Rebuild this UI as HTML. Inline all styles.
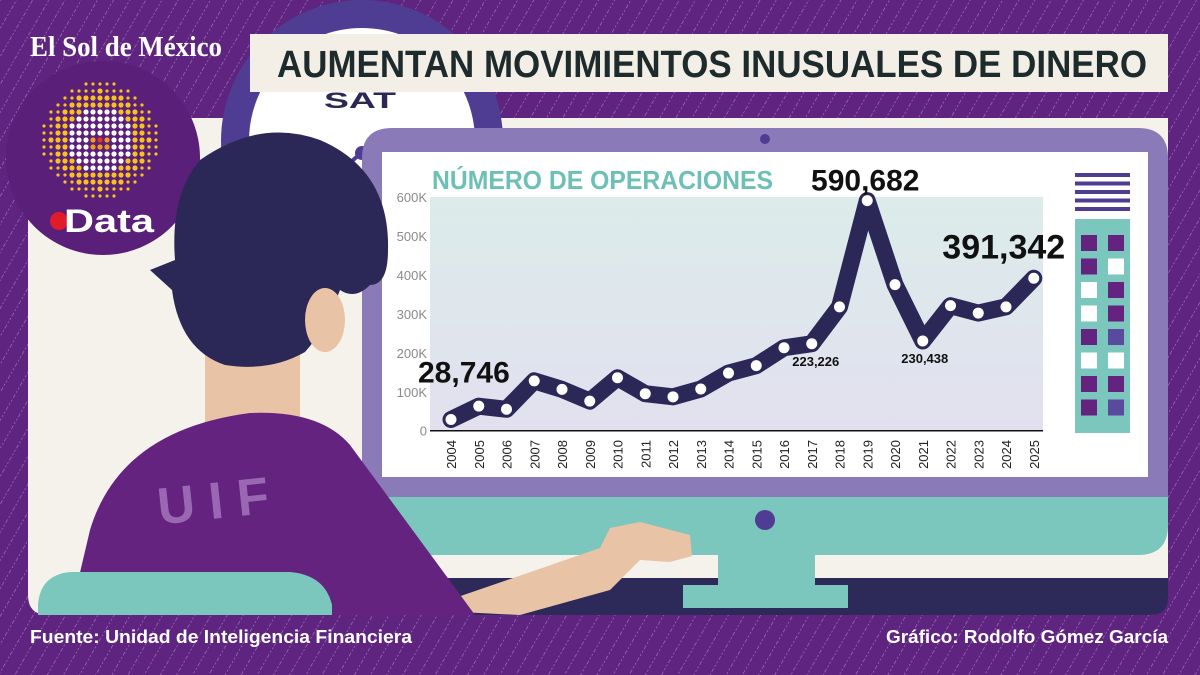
<!DOCTYPE html>
<html><head><meta charset="utf-8"><style>
html,body{margin:0;padding:0;width:1200px;height:675px;overflow:hidden;background:#5f2480}
svg{display:block}
text{font-family:"Liberation Sans",sans-serif}
</style></head><body>
<svg id="root" width="1200" height="675" viewBox="0 0 1200 675" xmlns="http://www.w3.org/2000/svg">
<defs>
<pattern id="stripes" width="14" height="14" patternUnits="userSpaceOnUse" patternTransform="rotate(30)">
<line x1="0" y1="0" x2="0" y2="14" stroke="#c9a5dc" stroke-width="1.2" stroke-dasharray="2 2" opacity="0.7"/>
</pattern>
<linearGradient id="plotbg" x1="0" y1="0" x2="0" y2="1"><stop offset="0" stop-color="#dcecea"/><stop offset="1" stop-color="#e2e0ef"/></linearGradient>
</defs>
<rect width="1200" height="675" fill="#5f2480"/>
<rect width="1200" height="675" fill="url(#stripes)"/>
<path d="M28 118 H1168 V595 Q1168 615 1148 615 H48 Q28 615 28 595 Z" fill="#f5f2ec"/>
<circle cx="362" cy="141" r="141" fill="#4f3d94"/>
<circle cx="362" cy="141" r="113" fill="#ffffff"/>
<text x="360" y="108" font-size="22" font-weight="bold" fill="#2b2858" text-anchor="middle" textLength="72" lengthAdjust="spacingAndGlyphs">SAT</text>
<line x1="320" y1="190" x2="362" y2="152" stroke="#4f3d94" stroke-width="4"/>
<circle cx="362" cy="153" r="7" fill="#4f3d94"/>
<circle cx="103" cy="158" r="97" fill="#5a1f78"/>
<text x="30" y="56" style="font-family:'Liberation Serif',serif" font-size="28" font-weight="bold" fill="#fff" textLength="192" lengthAdjust="spacingAndGlyphs">El Sol de México</text>
<g id="dots"></g>
<circle cx="59" cy="221" r="9" fill="#e01b2a"/>
<text x="64" y="232" font-size="32" font-weight="bold" fill="#fff" textLength="90" lengthAdjust="spacingAndGlyphs">Data</text>
<rect x="250" y="34" width="918" height="58" fill="#f3efe6"/>
<text x="277" y="77" font-size="38" font-weight="bold" fill="#1e2b2c" textLength="870" lengthAdjust="spacingAndGlyphs">AUMENTAN MOVIMIENTOS INUSUALES DE DINERO</text>
<path d="M430 578 H1168 V598 Q1168 615 1150 615 H430 Z" fill="#2d2a5a"/>
<rect x="380" y="555" width="788" height="23" fill="#f5f2ec"/>
<path d="M362 480 H1168 V525 Q1168 555 1138 555 H392 Q362 555 362 525 Z" fill="#7bc6bd"/>
<path d="M392 128 H1138 Q1168 128 1168 158 V497 H362 V158 Q362 128 392 128 Z" fill="#8a7ab7"/>
<rect x="382" y="152" width="766" height="325" fill="#ffffff"/>
<circle cx="765" cy="139" r="5" fill="#4f3d94"/>
<circle cx="765" cy="520" r="10" fill="#4f3d94"/>
<rect x="718" y="530" width="97" height="58" fill="#7bc6bd"/>
<rect x="683" y="585" width="165" height="23" fill="#7bc6bd"/>
<g id="deco"></g>
<text x="432" y="189" font-size="26" font-weight="bold" fill="#6cc0b5" textLength="341" lengthAdjust="spacingAndGlyphs">NÚMERO DE OPERACIONES</text>
<rect x="430" y="197" width="613" height="234" fill="url(#plotbg)"/>
<g id="chart"></g>
<path d="M420 610 L600 548 L610 528 L640 522 L690 535 L692 556 L670 562 L640 560 L610 590 L520 615 Z" fill="#e8c3a5"/>
<rect x="205" y="330" width="95" height="95" fill="#e8c3a5"/>
<path d="M70 615 L90 530 Q120 430 250 413 Q320 410 350 445 L475 615 Z" fill="#63237f"/>
<path d="M38 615 V605 Q40 575 70 572 H290 Q325 575 332 605 V615 Z" fill="#7bc6bd"/>
<text x="220" y="518" font-size="52" font-weight="bold" fill="#9a68b3" text-anchor="middle" letter-spacing="14" transform="rotate(-6 220 500)">UIF</text>
<path d="M200 160 Q260 118 320 140 Q390 170 388 250 Q388 285 370 285 Q355 300 340 290 Q325 330 305 352 Q270 372 225 365 Q180 350 172 290 L150 270 L175 260 Q170 195 200 160 Z" fill="#2b2858"/>
<ellipse cx="325" cy="320" rx="20" ry="32" fill="#e8c3a5"/>
<text x="30" y="643" font-size="18" font-weight="bold" fill="#fff" textLength="382" lengthAdjust="spacingAndGlyphs">Fuente: Unidad de Inteligencia Financiera</text>
<text x="1168" y="643" font-size="18" font-weight="bold" fill="#fff" text-anchor="end" textLength="282" lengthAdjust="spacingAndGlyphs">Gráfico: Rodolfo Gómez García</text>
</svg>
<script>
const years = ["2004","2005","2006","2007","2008","2009","2010","2011","2012","2013","2014","2015","2016","2017","2018","2019","2020","2021","2022","2023","2024","2025"];
const operations = [28746,63000,55000,128000,106000,76000,136000,95000,87000,107000,148000,167000,213000,223226,318000,590682,375000,230438,321000,302000,318000,391342];
const yTicks = [0,100000,200000,300000,400000,500000,600000];
const yTickLabels = ["0","100K","200K","300K","400K","500K","600K"];

const NS = "http://www.w3.org/2000/svg";
function mk(tag, attrs, parent){const e=document.createElementNS(NS,tag);for(const k in attrs)e.setAttribute(k,attrs[k]);parent.appendChild(e);return e;}
const X0=451, XSTEP=27.75, Y0=430.7, YPER=233.7/600000;
function xScale(i){return X0+i*XSTEP;}
function yScale(v){return Y0-v*YPER;}
const chart=document.getElementById('chart');

yTicks.forEach((t,i)=>{
  const tx=mk('text',{x:427,y:yScale(t)+5,'font-size':13,fill:'#8a8a8a','text-anchor':'end'},chart);
  
  
  tx.textContent=yTickLabels[i];
});
const ax=mk('line',{x1:430,y1:Y0,x2:1043,y2:Y0,stroke:'#111','stroke-width':1.5},chart);


years.forEach((y,i)=>{
  const x=xScale(i);
  const tx=mk('text',{x:0,y:0,'font-size':13,fill:'#222','text-anchor':'end',transform:`translate(${x+5},440) rotate(-90)`},chart);
  
  
  tx.textContent=y;
});
const pts=operations.map((v,i)=>xScale(i)+','+yScale(v)).join(' ');
const line=mk('polyline',{points:pts,fill:'none',stroke:'#2b2858','stroke-width':17,'stroke-linejoin':'round','stroke-linecap':'round'},chart);


operations.forEach((v,i)=>{
  const c=mk('circle',{cx:xScale(i),cy:yScale(v),r:5.5,fill:'#fff'},chart);
  
  
});
// [index, dx from point, dy from point, font size, anchor]
const annotations=[[0,-33,-37,30,'start'],[15,-2,-10,30,'middle'],[21,-30,-20,34,'middle'],[13,4,22,13,'middle'],[17,2,22,13,'middle']];
annotations.forEach(a=>{
  const i=a[0];
  const t=mk('text',{x:xScale(i)+a[1],y:yScale(operations[i])+a[2],'font-size':a[3],'font-weight':'bold',fill:'#111','text-anchor':a[4]},chart);
  
  
  t.textContent=operations[i].toLocaleString('en-US');
});

const deco=document.getElementById('deco');
for(let i=0;i<5;i++) mk('rect',{x:1075,y:173+i*8.5,width:55,height:4,fill:'#4f3d94'},deco);
mk('rect',{x:1075,y:219,width:55,height:214,fill:'#7bc6bd'},deco);
const cols=[["#63237f","#63237f"],["#63237f","#fff"],["#fff","#63237f"],["#fff","#63237f"],["#63237f","#5a4a9e"],["#fff","#fff"],["#63237f","#63237f"],["#63237f","#5a4a9e"]];
cols.forEach((r,i)=>{mk('rect',{x:1081,y:235+i*23.5,width:16,height:16,fill:r[0]},deco);mk('rect',{x:1108,y:235+i*23.5,width:16,height:16,fill:r[1]},deco);});

const dots=document.getElementById('dots');
for(let r=-8;r<=8;r++)for(let c=-8;c<=8;c++){
  const d=Math.hypot(r,c); if(d>8.3)continue;
  const x=100+c*7,y=140+r*7;
  let col=(d<4.5)?'#ffffff':'#f6c21b';
  if(Math.abs(c)<=1&&Math.abs(r)<=1&&r>=0)col='#f39a1e';
  if(r===0&&c===0)col='#e23a1c';
  mk('circle',{cx:x,cy:y,r:d>7?1.6:2.6,fill:col},dots);
}
</script>
</body></html>
